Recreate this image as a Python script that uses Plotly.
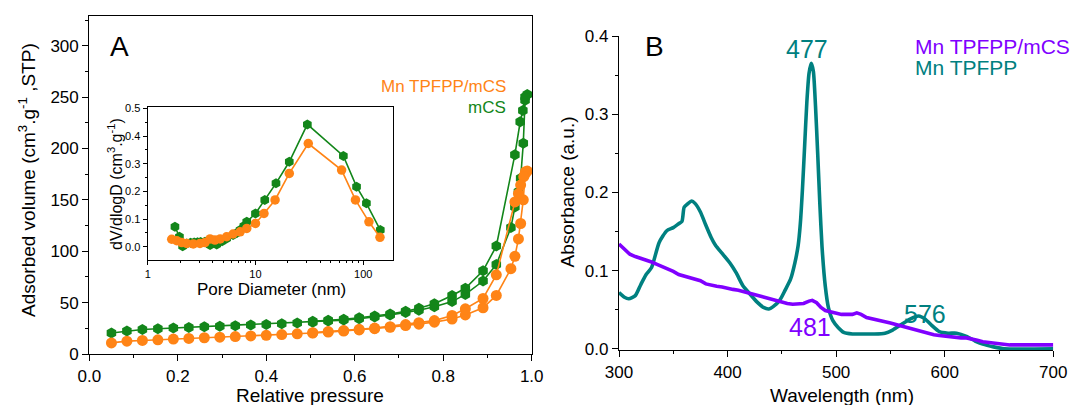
import plotly.graph_objects as go

# The page body margin is removed by a small post-script, so the figure fills the window.
OFF = 0
W, H = 1072 - OFF, 405 - OFF
FONT = "Liberation Sans, Arial, sans-serif"

# ---------------- Panel A: N2 isotherms ----------------
mcs_ads_p = [0.05, 0.085, 0.12, 0.155, 0.19, 0.225, 0.26, 0.295, 0.33, 0.365, 0.40, 0.435, 0.47, 0.505,
             0.54, 0.575, 0.61, 0.645, 0.68, 0.715, 0.745, 0.78, 0.82, 0.85, 0.89, 0.92, 0.953, 0.962,
             0.97, 0.975, 0.981, 0.985]
mcs_ads_v = [20.5, 22.5, 23.8, 24.6, 25.3, 25.9, 26.5, 27.1, 27.6, 28.2, 28.8, 29.5, 30.2, 31.0,
             32.0, 33.0, 34.3, 36.0, 38.0, 40.5, 42.5, 46.0, 51.0, 58.0, 71.0, 87.0, 123.0, 143.0,
             158.0, 171.0, 205.0, 247.0]
mcs_des_p = [0.99, 0.985, 0.98, 0.974, 0.962, 0.92, 0.89, 0.85, 0.82, 0.78, 0.745, 0.715, 0.68,
             0.645, 0.61, 0.575, 0.54, 0.505]
mcs_des_v = [252.5, 250.0, 237.0, 226.0, 194.0, 105.0, 81.0, 64.0, 57.0, 49.0, 44.5, 41.5, 39.0,
             37.0, 35.3, 33.8, 32.8, 31.8]

mn_ads_p = mcs_ads_p
mn_ads_v = [10.8, 12.5, 13.2, 13.8, 14.5, 15.2, 15.8, 16.4, 17.0, 17.6, 18.2, 18.9, 19.6, 20.4,
            21.3, 22.3, 23.4, 24.6, 26.0, 27.7, 29.0, 31.0, 34.0, 38.0, 45.0, 57.0, 83.0, 95.0,
            112.0, 127.0, 150.0, 175.0]
mn_des_p = [0.99, 0.986, 0.982, 0.975, 0.97, 0.962, 0.92, 0.89, 0.85, 0.82, 0.78, 0.745, 0.715,
            0.68, 0.645, 0.61, 0.575, 0.54, 0.505]
mn_des_v = [178.0, 177.4, 172.5, 164.4, 156.0, 148.0, 77.0, 54.0, 44.0, 37.5, 32.5, 30.5, 28.6,
            26.6, 25.2, 24.0, 22.8, 21.8, 20.8]

# ---------------- Inset: pore size distribution ----------------
mcs_pd = [1.79, 1.97, 2.11, 2.3, 2.5, 2.7, 2.9, 3.1, 3.4, 3.79, 4.37, 4.9, 5.4, 6.2, 6.7, 7.2, 7.8,
          8.3, 10.0, 12.2, 15.5, 20.6, 30.3, 65.4, 86.7, 107.0, 144.0]
mcs_dv = [0.072, 0.036, 0.002, 0.012, 0.014, 0.015, 0.016, 0.017, 0.018, 0.006, 0.008, 0.02, 0.03,
          0.042, 0.05, 0.06, 0.075, 0.09, 0.12, 0.169, 0.229, 0.307, 0.442, 0.328, 0.217, 0.157, 0.06]
mn_pd = [1.67, 1.86, 2.07, 2.3, 2.65, 3.06, 3.4, 3.79, 4.2, 4.7, 5.4, 6.2, 7.2, 8.3, 10.0, 12.0,
         15.2, 20.6, 30.9, 63.0, 84.7, 113.0, 143.0]
mn_dv = [0.027, 0.022, 0.015, 0.012, 0.010, 0.012, 0.015, 0.028, 0.024, 0.028, 0.036, 0.046, 0.054,
         0.066, 0.084, 0.12, 0.169, 0.265, 0.373, 0.277, 0.169, 0.09, 0.034]

# ---------------- Panel B: UV-vis ----------------
tpfpp_wl = [300, 305, 309, 315, 320, 325, 330, 337, 344, 350, 355, 358, 360, 363, 367, 370, 375, 380,
            385, 389, 395, 402, 408, 414, 420, 427, 433, 438, 442, 448, 453, 458, 462, 465, 467, 469,
            471, 473, 475, 477, 479, 481, 483, 485, 487, 490, 493, 497, 502, 507, 515, 525, 535, 545,
            552, 560, 568, 576, 582, 588, 595, 603, 611, 620, 628, 635, 645, 655, 700]
tpfpp_abs = [0.072, 0.066, 0.064, 0.068, 0.082, 0.095, 0.104, 0.136, 0.151, 0.155, 0.160, 0.163, 0.181,
             0.185, 0.189, 0.186, 0.175, 0.158, 0.142, 0.132, 0.122, 0.110, 0.097, 0.081, 0.071, 0.060,
             0.053, 0.051, 0.054, 0.062, 0.075, 0.089, 0.110, 0.132, 0.160, 0.205, 0.260, 0.315, 0.352,
             0.365, 0.355, 0.310, 0.250, 0.185, 0.130, 0.080, 0.052, 0.036, 0.027, 0.021, 0.019, 0.019,
             0.019, 0.020, 0.024, 0.031, 0.038, 0.042, 0.038, 0.030, 0.022, 0.020, 0.020, 0.016, 0.010,
             0.006, 0.0025, 0.000, 0.000]

mncs_wl = [300, 305, 310, 315, 320, 325, 330, 335, 340, 345, 350, 355, 360, 365, 370, 375, 380, 385,
           390, 395, 400, 405, 410, 415, 420, 425, 430, 435, 440, 445, 450, 455, 460, 465, 470, 475,
           478, 482, 486, 490, 495, 500, 505, 510, 515, 519, 523, 528, 535, 540, 545, 550, 555, 560,
           565, 570, 575, 580, 585, 590, 595, 600, 605, 610, 615, 620, 625, 630, 635, 640, 645, 650,
           655, 660, 665, 670, 675, 680, 685, 690, 695, 700]
mncs_abs = [0.134, 0.127, 0.121, 0.118, 0.116, 0.113, 0.111, 0.108, 0.105, 0.103, 0.099, 0.095, 0.093,
            0.091, 0.090, 0.087, 0.083, 0.081, 0.080, 0.079, 0.077, 0.076, 0.075, 0.073, 0.071, 0.069,
            0.067, 0.066, 0.064, 0.062, 0.060, 0.058, 0.057, 0.057, 0.058, 0.061, 0.062, 0.059, 0.053,
            0.049, 0.047, 0.045, 0.044, 0.044, 0.044, 0.046, 0.044, 0.040, 0.038, 0.037, 0.035, 0.033,
            0.031, 0.029, 0.027, 0.025, 0.023, 0.021, 0.019, 0.018, 0.017, 0.016, 0.015, 0.015, 0.014,
            0.014, 0.013, 0.011, 0.009, 0.008, 0.007, 0.006, 0.005, 0.005, 0.005, 0.005, 0.006, 0.006,
            0.005, 0.005, 0.005, 0.005]

ORANGE = "#FF8416"
GREEN = "#13861A"
TEAL = "#008080"
PURPLE = "#8000FF"


def px(x):
    """window pixel x -> paper fraction"""
    return (x - OFF) / W


def py(y):
    """window pixel y (from top) -> paper fraction"""
    return 1 - (y - OFF) / H


fig = go.Figure()

# Panel A traces
for xs, ys, col, sym, sz in [
    (mcs_ads_p, mcs_ads_v, GREEN, "hexagon", 11),
    (mcs_des_p, mcs_des_v, GREEN, "hexagon", 11),
    (mn_ads_p, mn_ads_v, ORANGE, "circle", 11),
    (mn_des_p, mn_des_v, ORANGE, "circle", 11),
]:
    fig.add_trace(go.Scatter(x=xs, y=ys, mode="lines+markers", xaxis="x", yaxis="y",
                             line=dict(color=col, width=1.6),
                             marker=dict(symbol=sym, size=sz, color=col, line=dict(width=0)),
                             showlegend=False, cliponaxis=False))

# Inset traces
fig.add_trace(go.Scatter(x=mcs_pd, y=mcs_dv, mode="lines+markers", xaxis="x2", yaxis="y2",
                         line=dict(color=GREEN, width=1.6),
                         marker=dict(symbol="hexagon", size=10, color=GREEN, line=dict(width=0)),
                         showlegend=False, cliponaxis=False))
fig.add_trace(go.Scatter(x=mn_pd, y=mn_dv, mode="lines+markers", xaxis="x2", yaxis="y2",
                         line=dict(color=ORANGE, width=1.6),
                         marker=dict(symbol="circle", size=9.5, color=ORANGE, line=dict(width=0)),
                         showlegend=False, cliponaxis=False))

# Panel B traces
fig.add_trace(go.Scatter(x=tpfpp_wl, y=tpfpp_abs, mode="lines", xaxis="x3", yaxis="y3",
                         line=dict(color=TEAL, width=3.6, shape="spline", smoothing=0.6),
                         showlegend=False))
fig.add_trace(go.Scatter(x=mncs_wl, y=mncs_abs, mode="lines", xaxis="x3", yaxis="y3",
                         line=dict(color=PURPLE, width=3.6),
                         showlegend=False))

tickfont = dict(family=FONT, size=17, color="black")
small_tickfont = dict(family=FONT, size=11, color="black")

# Panel A geometry (window pixels)
A_dom_x = [px(89.3), px(531.7)]
A_dom_y = [py(354), py(15.7)]
A_yr = [0, 329.2]

# inset geometry
I_dom_x = [px(147.7), px(393.3)]
I_dom_y = [py(260), py(106.7)]
I_xr = [0, 2.279]
I_yr = [-0.048, 0.506]

# Panel B geometry
B_dom_x = [px(619), px(1053.3)]
B_dom_y = [py(350), py(36)]

log_minor = [v * m for m in (1, 10, 100) for v in range(2, 10)]

common = dict(showgrid=False, zeroline=False, automargin=False)

fig.update_layout(
    width=W, height=H,
    margin=dict(l=0, r=0, t=0, b=0, pad=0),
    paper_bgcolor="white", plot_bgcolor="rgba(0,0,0,0)",
    font=dict(family=FONT, color="black"),
    showlegend=False,
    xaxis=dict(domain=A_dom_x, anchor="y", range=[0, 1], tickvals=[0, 0.2, 0.4, 0.6, 0.8, 1.0],
               ticktext=["0.0", "0.2", "0.4", "0.6", "0.8", "1.0"],
               ticks="outside", ticklen=6, tickwidth=1, tickcolor="black",
               minor=dict(tickvals=[0.1, 0.3, 0.5, 0.7, 0.9], ticks="outside", ticklen=3,
                          tickcolor="black"),
               showline=True, linecolor="black", linewidth=1.3, mirror=True,
               tickfont=tickfont, **common),
    yaxis=dict(domain=A_dom_y, anchor="x", range=A_yr, tickvals=[0, 50, 100, 150, 200, 250, 300],
               ticks="outside", ticklen=6, tickwidth=1, tickcolor="black",
               minor=dict(tickvals=[25, 75, 125, 175, 225, 275, 325], ticks="outside", ticklen=3,
                          tickcolor="black"),
               showline=True, linecolor="black", linewidth=1.3, mirror=True,
               tickfont=tickfont, **common),
    xaxis4=dict(overlaying="x", anchor="y", side="top", range=[0, 1],
                tickvals=[0.1, 0.2, 0.3, 0.4, 0.5, 0.6, 0.7, 0.8, 0.9],
                ticks="inside", ticklen=3, tickcolor="black", showticklabels=False,
                showline=False, **common),
    yaxis4=dict(overlaying="y", anchor="x", side="right", range=A_yr,
                tickvals=[32.9 * k for k in range(1, 10)],
                ticks="inside", ticklen=3, tickcolor="black", showticklabels=False,
                showline=False, **common),
    xaxis2=dict(domain=I_dom_x, anchor="y2", type="log", range=I_xr, tickvals=[1, 10, 100],
                ticktext=["1", "10", "100"],
                ticks="outside", ticklen=4, tickcolor="black",
                minor=dict(tickvals=log_minor, ticks="outside", ticklen=2, tickcolor="black"),
                showline=True, linecolor="black", linewidth=1.2, mirror=True,
                tickfont=small_tickfont, **common),
    yaxis2=dict(domain=I_dom_y, anchor="x2", range=I_yr,
                tickvals=[0, 0.1, 0.2, 0.3, 0.4, 0.5], tickformat=".1f",
                ticks="outside", ticklen=4, tickcolor="black",
                minor=dict(tickvals=[-0.05, 0.05, 0.15, 0.25, 0.35, 0.45], ticks="outside", ticklen=2,
                           tickcolor="black"),
                showline=True, linecolor="black", linewidth=1.2, mirror=True,
                tickfont=small_tickfont, **common),
    xaxis5=dict(overlaying="x2", anchor="y2", side="top", type="log", range=I_xr,
                tickvals=[10, 100] + log_minor,
                ticks="inside", ticklen=2, tickcolor="black", showticklabels=False,
                showline=False, **common),
    yaxis5=dict(overlaying="y2", anchor="x2", side="right", range=I_yr,
                tickvals=[-0.05 + 0.05 * k for k in range(1, 11)],
                ticks="inside", ticklen=2, tickcolor="black", showticklabels=False,
                showline=False, **common),
    xaxis3=dict(domain=B_dom_x, anchor="y3", range=[300, 700], tickvals=[300, 400, 500, 600, 700],
                ticks="outside", ticklen=6, tickcolor="black",
                minor=dict(tickvals=[350, 450, 550, 650], ticks="outside", ticklen=3,
                           tickcolor="black"),
                showline=True, linecolor="black", linewidth=1.3,
                tickfont=tickfont, **common),
    yaxis3=dict(domain=B_dom_y, anchor="x3", range=[-0.0015, 0.4], tickvals=[0, 0.1, 0.2, 0.3, 0.4],
                tickformat=".1f",
                ticks="outside", ticklen=6, tickcolor="black",
                minor=dict(tickvals=[0.05, 0.15, 0.25, 0.35], ticks="outside", ticklen=3,
                           tickcolor="black"),
                showline=True, linecolor="black", linewidth=1.3,
                tickfont=tickfont, **common),
)


def ann(text, x, y, size, color="black", xanchor="center", angle=0):
    fig.add_annotation(text=text, x=px(x), y=py(y), xref="paper", yref="paper",
                       showarrow=False, xanchor=xanchor, yanchor="middle", textangle=angle,
                       font=dict(family=FONT, size=size, color=color))


# axis titles
ann("Relative pressure", 310, 395, 19)
ann("Adsorbed volume (cm<sup>3</sup>.g<sup>-1</sup> ,STP)", 27, 180, 19, angle=-90)
ann("Pore Diameter (nm)", 271.7, 289.3, 17)
ann("dV/dlogD (cm<sup>3</sup>.g<sup>-1</sup>)", 115, 184, 16, angle=-90)
ann("Wavelength (nm)", 841.7, 395, 19)
ann("Absorbance (a.u.)", 566.5, 192, 19, angle=-90)

# panel letters
ann("A", 119, 46.7, 28)
ann("B", 654, 46.7, 28)

# legends
ann("Mn TPFPP/mCS", 508, 87, 17, ORANGE, xanchor="right")
ann("mCS", 508, 108, 17, GREEN, xanchor="right")
ann("Mn TPFPP/mCS", 913, 46.7, 21, PURPLE, xanchor="left")
ann("Mn TPFPP", 913, 67.7, 21, TEAL, xanchor="left")

# peak labels
ann("477", 807, 49, 25, TEAL)
ann("576", 925, 314, 25, TEAL)
ann("481", 810, 327, 25, PURPLE)

fig.write_html("out.html",
               config={"displayModeBar": False},
               post_script="document.body.style.margin='0px';document.body.style.overflow='hidden';")
